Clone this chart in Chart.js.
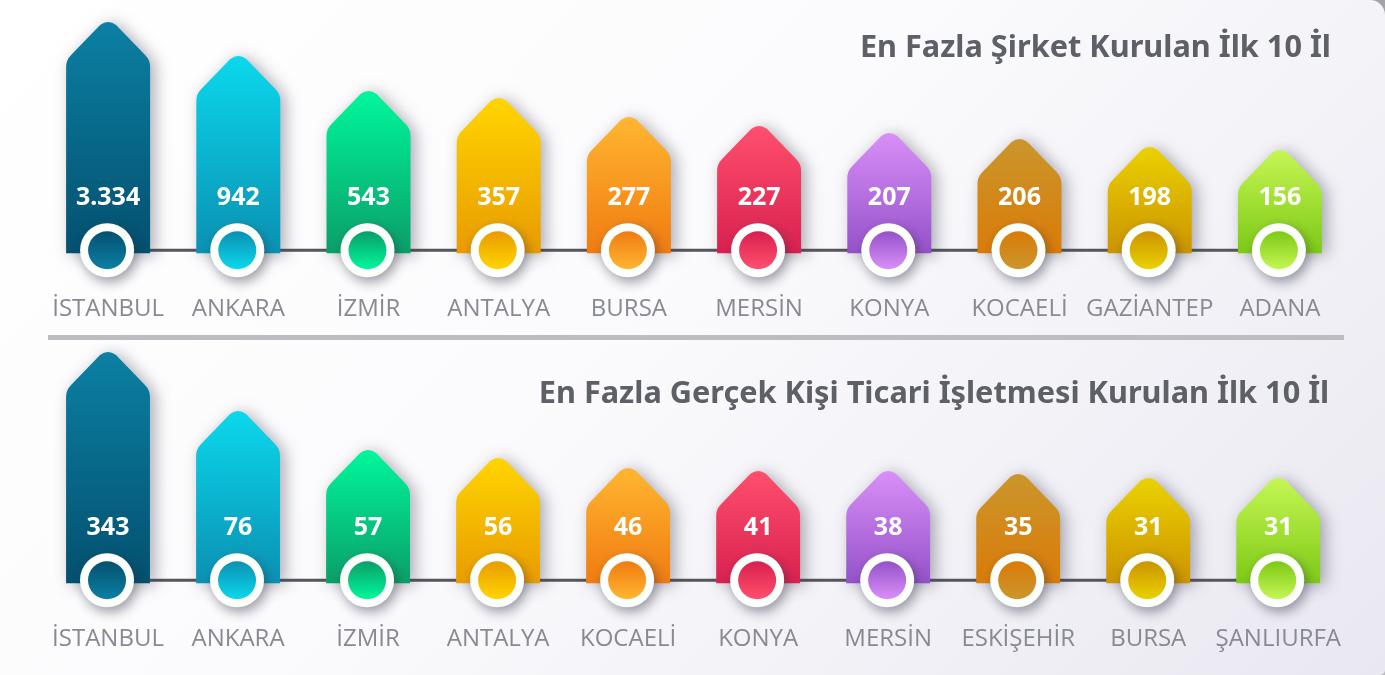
<!DOCTYPE html>
<html lang="tr">
<head>
<meta charset="utf-8">
<title>En Fazla Kurulan İlk 10 İl</title>
<script src="https://cdn.jsdelivr.net/npm/chart.js@4"></script>
<style>
  html, body { margin: 0; padding: 0; width: 1385px; height: 675px; overflow: hidden; background: linear-gradient(#a4a4a8 0 50%, #b8b8bc 50%); }
  #card { position: absolute; left: 0; top: 0; width: 1385px; height: 675px; overflow: hidden;
    border-top-right-radius: 15px; border-bottom-right-radius: 5px;
    background: linear-gradient(135deg, #ffffff 0%, #fbfbfd 45%, #e9e8f1 100%); }
  canvas { position: absolute; left: 0; filter: blur(0.5px); }
  #chart1 { top: 0; }
  #chart2 { top: 330px; }
  #separator { position: absolute; left: 48px; top: 335px; width: 1296px; height: 5px; background: #bcbcc1; }
</style>
</head>
<body>
<div id="card">
  <canvas id="chart1" width="1385" height="374"></canvas>
  <canvas id="chart2" width="1385" height="374"></canvas>
  <div id="separator"></div>
</div>
<script>
const sirketTitle = "En Fazla Şirket Kurulan İlk 10 İl";
const sirketCities = ["İSTANBUL", "ANKARA", "İZMİR", "ANTALYA", "BURSA", "MERSİN", "KONYA", "KOCAELİ", "GAZİANTEP", "ADANA"];
const sirketValues = [3334, 942, 543, 357, 277, 227, 207, 206, 198, 156];
// drawn height of each bar, the picture's bars are not to scale with the values
const sirketHeights = [231, 197, 162, 155, 136, 127, 120, 114, 106, 103];

const isletmeTitle = "En Fazla Gerçek Kişi Ticari İşletmesi Kurulan İlk 10 İl";
const isletmeCities = ["İSTANBUL", "ANKARA", "İZMİR", "ANTALYA", "KOCAELİ", "KONYA", "MERSİN", "ESKİŞEHİR", "BURSA", "ŞANLIURFA"];
const isletmeValues = [343, 76, 57, 56, 46, 41, 38, 35, 31, 31];
const isletmeHeights = [231, 172, 133, 125, 115, 112, 112, 109, 105, 105];

const topColors = ["#0b80a3", "#0bd8ec", "#00f79c", "#ffd500", "#ffb631", "#ff4f6d", "#d98ff7", "#cb962c", "#ead200", "#c5f654"];
const bottomColors = ["#04506f", "#0a90b2", "#0a9e68", "#e99b00", "#f07b10", "#d8204f", "#9451c9", "#d97b08", "#cc9300", "#7dc915"];

const POINT_HEIGHT = 38;

function housePath(ctx, left, right, top, bottom) {
  const mid = (left + right) / 2;
  const shoulder = top + POINT_HEIGHT;
  ctx.beginPath();
  ctx.moveTo(left, bottom);
  ctx.lineTo(left, shoulder + 7);
  ctx.quadraticCurveTo(left, shoulder, left + 5, shoulder - 5);
  ctx.lineTo(mid - 8, top + 3);
  ctx.quadraticCurveTo(mid, top - 3, mid + 8, top + 3);
  ctx.lineTo(right - 5, shoulder - 5);
  ctx.quadraticCurveTo(right, shoulder, right, shoulder + 7);
  ctx.lineTo(right, bottom);
  ctx.closePath();
}

const houseBars = {
  id: "houseBars",
  beforeDatasetDraw(chart, args) {
    const ctx = chart.ctx;
    const bars = args.meta.data;
    const values = chart.data.datasets[0].values;
    const { title, titleY } = chart.options.plugins.houseBars;

    ctx.save();
    // line joining the bars
    ctx.strokeStyle = "#55565c";
    ctx.lineWidth = 3;
    ctx.beginPath();
    ctx.moveTo(bars[0].x, bars[0].base - 3);
    ctx.lineTo(bars[bars.length - 1].x, bars[0].base - 3);
    ctx.stroke();

    bars.forEach((bar, i) => {
      const left = bar.x - bar.width / 2;
      const right = bar.x + bar.width / 2;
      const grad = ctx.createLinearGradient(0, bar.y, 0, bar.base);
      grad.addColorStop(0, topColors[i]);
      grad.addColorStop(1, bottomColors[i]);

      ctx.save();
      ctx.shadowColor = "rgba(40,40,60,0.38)";
      ctx.shadowBlur = 16;
      ctx.shadowOffsetX = 5;
      ctx.shadowOffsetY = 2;
      housePath(ctx, left, right, bar.y, bar.base);
      ctx.fillStyle = grad;
      ctx.fill();
      ctx.restore();

      const cx = bar.x - 1;
      const cy = bar.base - 3;
      ctx.save();
      ctx.shadowColor = "rgba(40,40,60,0.45)";
      ctx.shadowBlur = 12;
      ctx.shadowOffsetX = 3;
      ctx.shadowOffsetY = 5;
      ctx.beginPath();
      ctx.arc(cx, cy, 27, 0, Math.PI * 2);
      ctx.fillStyle = "#fdfffd";
      ctx.fill();
      ctx.restore();

      const dot = ctx.createLinearGradient(0, cy - 19, 0, cy + 19);
      dot.addColorStop(0, bottomColors[i]);
      dot.addColorStop(1, topColors[i]);
      ctx.beginPath();
      ctx.arc(cx, cy, 19, 0, Math.PI * 2);
      ctx.fillStyle = dot;
      ctx.fill();

      ctx.fillStyle = "#ffffff";
      ctx.font = "bold 25px 'Noto Sans'";
      ctx.textAlign = "center";
      ctx.textBaseline = "middle";
      ctx.fillText(values[i].toLocaleString("tr-TR"), bar.x, bar.base - 55);
    });

    ctx.fillStyle = "#5e6067";
    ctx.font = "bold 30.7px 'Noto Sans'";
    ctx.textAlign = "right";
    ctx.textBaseline = "middle";
    ctx.fillText(title, chart.chartArea.right - 14, titleY);
    ctx.restore();
    return false;
  }
};

function createHouseChart(canvas, title, titleY, cities, heights, values) {
  return new Chart(canvas.getContext("2d"), {
    type: "bar",
    data: {
      labels: cities,
      datasets: [{ data: heights, values, backgroundColor: topColors, barPercentage: 0.645, categoryPercentage: 1 }]
    },
    options: {
      responsive: false,
      animation: false,
      layout: { padding: { left: 43, right: 40, top: 0, bottom: 8 } },
      plugins: {
        legend: { display: false },
        tooltip: { enabled: false },
        houseBars: { title, titleY }
      },
      scales: {
        x: {
          grid: { display: false, drawTicks: false },
          border: { display: false },
          ticks: {
            color: "#888a92",
            font: { family: "'Open Sans'", size: 24, weight: "400" },
            padding: 42,
            maxRotation: 0,
            autoSkip: false
          }
        },
        y: { display: false, min: 0, max: 253 }
      }
    },
    plugins: [houseBars]
  });
}

createHouseChart(document.getElementById("chart1"), sirketTitle, 48, sirketCities, sirketHeights, sirketValues);
createHouseChart(document.getElementById("chart2"), isletmeTitle, 64, isletmeCities, isletmeHeights, isletmeValues);
</script>
</body>
</html>
